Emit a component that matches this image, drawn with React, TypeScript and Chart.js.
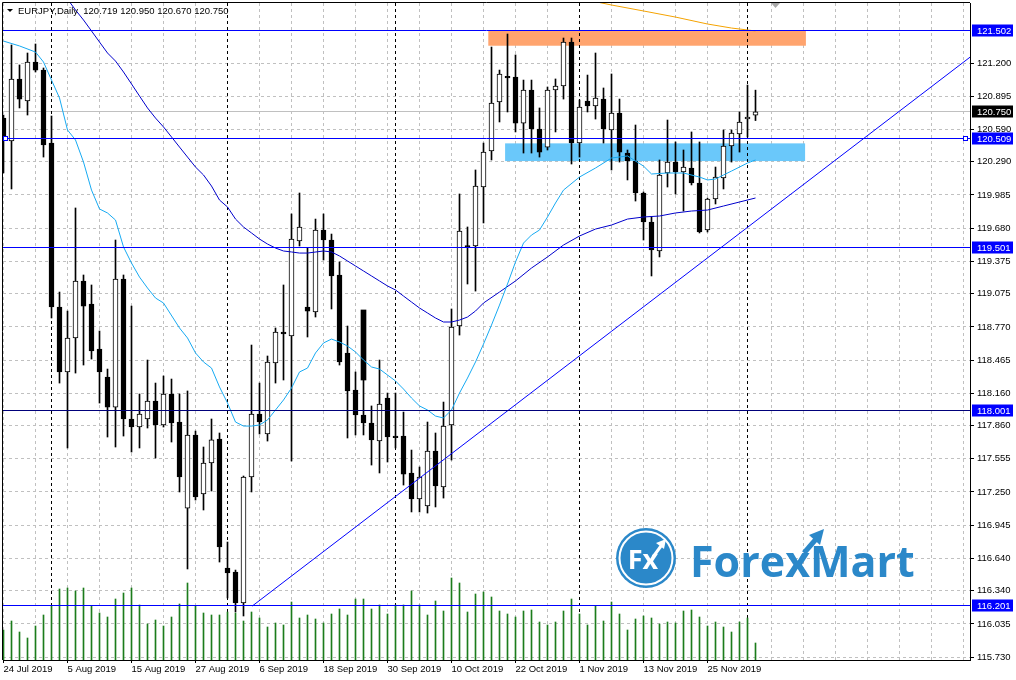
import React, { useEffect, useRef } from "react";
import { Chart, registerables } from "chart.js";

Chart.register(...registerables);

// ---------- data ----------
const dateLabels = [
  "24 Jul 2019", "5 Aug 2019", "15 Aug 2019", "27 Aug 2019", "6 Sep 2019", "18 Sep 2019",
  "30 Sep 2019", "10 Oct 2019", "22 Oct 2019", "1 Nov 2019", "13 Nov 2019", "25 Nov 2019",
];

const priceTicks = [
  121.2, 120.895, 120.59, 120.29, 119.985, 119.68, 119.375, 119.075, 118.77, 118.465,
  118.16, 117.86, 117.555, 117.25, 116.945, 116.64, 116.34, 116.035, 115.73,
];

const opens = [
  120.693, 120.482, 121.053, 120.85, 121.209, 121.135, 120.463, 118.953, 118.355, 118.668,
  119.193, 118.981, 118.566, 118.309, 118.032, 119.211, 117.922, 117.848, 117.922, 118.088,
  117.867, 118.152, 117.894, 117.102, 117.775, 117.231, 117.517, 117.738, 116.55, 116.513,
  116.228, 117.388, 117.968, 117.784, 118.438, 118.723, 118.686, 119.561, 118.953, 118.907,
  119.662, 119.57, 119.248, 118.53, 118.189, 117.959, 117.885, 117.719, 118.115, 117.765,
  117.765, 117.425, 117.185, 117.121, 117.627, 117.296, 117.867, 118.778, 119.518, 119.515,
  120.058, 120.39, 120.841, 121.078, 121.071, 120.647, 120.951, 120.592, 120.426, 120.951,
  120.988, 121.393, 120.463, 120.85, 120.804, 120.868, 120.583, 120.74, 120.371, 120.298,
  120.003, 119.736, 119.469, 120.187, 120.288, 120.196, 120.233, 120.095, 119.662, 119.948,
  120.141, 120.436, 120.546, 120.684, 120.719,
];
const highs = [
  120.721, 121.366, 121.182, 121.292, 121.375, 121.154, 120.712, 119.091, 118.916, 119.865,
  119.248, 119.156, 118.732, 118.382, 119.57, 119.248, 118.962, 118.152, 118.465, 118.253,
  118.318, 118.29, 118.152, 118.18, 117.811, 117.664, 117.922, 117.793, 116.789, 116.531,
  117.397, 118.603, 118.253, 118.502, 118.76, 119.156, 119.81, 120.003, 119.496, 119.763,
  119.81, 119.625, 119.368, 118.778, 118.355, 118.281, 118.042, 118.465, 118.161, 118.161,
  117.986, 117.636, 117.48, 117.894, 117.793, 118.078, 118.935, 119.994, 119.69, 120.215,
  120.463, 121.347, 121.135, 121.467, 121.274, 121.043, 121.043, 120.786, 120.979, 121.053,
  121.43, 121.43, 120.859, 121.089, 121.292, 120.97, 121.099, 120.868, 120.399, 120.629,
  120.012, 119.782, 120.307, 120.675, 120.473, 120.399, 120.565, 120.473, 119.955, 120.242,
  120.583, 120.583, 120.749, 120.997, 120.95,
];
const lows = [
  120.187, 120.04, 120.786, 120.721, 121.117, 120.334, 118.852, 118.253, 117.655, 118.345,
  118.419, 118.474, 118.069, 117.756, 117.664, 117.765, 117.618, 117.655, 117.839, 117.563,
  117.848, 117.71, 117.25, 116.541, 117.176, 117.084, 117.259, 116.605, 116.274, 116.145,
  116.108, 117.25, 117.784, 117.719, 118.253, 118.281, 117.535, 119.515, 118.677, 118.861,
  119.386, 118.935, 118.419, 117.747, 117.775, 117.775, 117.498, 117.425, 117.526, 117.655,
  117.314, 117.066, 117.066, 117.056, 117.112, 117.194, 117.544, 118.695, 119.165, 119.1,
  119.727, 120.307, 120.657, 120.749, 120.565, 120.371, 120.371, 120.334, 120.399, 120.565,
  120.868, 120.27, 120.334, 120.749, 120.684, 120.463, 120.215, 120.288, 120.123, 119.929,
  119.57, 119.239, 119.414, 120.058, 119.994, 119.837, 120.077, 119.635, 119.644, 119.902,
  120.04, 120.288, 120.38, 120.519, 120.67,
];
const closes = [
  120.491, 121.053, 120.868, 121.209, 121.135, 120.445, 118.953, 118.355, 118.668, 119.193,
  118.962, 118.548, 118.355, 118.032, 119.211, 117.922, 117.848, 117.968, 118.088, 117.867,
  118.152, 117.885, 117.388, 117.775, 117.204, 117.517, 117.729, 116.743, 116.504, 116.228,
  117.388, 117.968, 117.894, 118.447, 118.723, 118.705, 119.579, 119.69, 118.916, 119.662,
  119.57, 119.239, 118.447, 118.18, 117.959, 117.885, 117.729, 118.06, 117.756, 117.75,
  117.415, 117.185, 117.388, 117.627, 117.305, 117.857, 118.769, 119.653, 119.502, 120.067,
  120.38, 120.832, 121.099, 121.062, 120.647, 120.951, 120.592, 120.38, 120.951, 120.988,
  121.393, 120.463, 120.795, 120.804, 120.878, 120.592, 120.74, 120.38, 120.298, 120.003,
  119.736, 119.478, 120.169, 120.288, 120.196, 120.242, 120.095, 119.644, 119.948, 120.15,
  120.436, 120.555, 120.657, 120.703, 120.75,
];
// tick volume (thousands)
const volumes = [
  30, 39, 28, 22, 34, 45, 54, 71, 72, 69,
  72, 54, 47, 43, 61, 67, 72, 55, 36, 40,
  34, 43, 56, 77, 54, 47, 45, 45, 48, 47,
  39, 48, 42, 33, 37, 35, 58, 42, 45, 41,
  37, 46, 51, 45, 61, 61, 51, 55, 46, 55,
  55, 69, 55, 45, 59, 49, 82, 77, 48, 66,
  68, 63, 49, 46, 43, 49, 50, 38, 35, 38,
  49, 61, 46, 35, 54, 39, 58, 46, 30, 41,
  44, 42, 36, 38, 37, 49, 50, 43, 34, 38,
  33, 28, 38, 42, 17,
];
// stray body drawn at bar 45
const strayBody: [number, number, number] = [45, 118.926, 118.281];

const maFast: [number, number][] = [
  [0, 121.402], [2, 121.357], [4, 121.301], [5, 121.209], [6, 121.043], [7, 120.878], [8, 120.583],
  [9, 120.491], [10, 120.288], [11, 120.03], [12, 119.856], [13, 119.819], [14, 119.754], [15, 119.506],
  [16, 119.358], [17, 119.229], [18, 119.128], [19, 119.036], [20, 118.99], [22, 118.76], [23, 118.668],
  [24, 118.53], [25, 118.447], [26, 118.391], [27, 118.217], [28, 118.069], [29, 117.894], [30, 117.857],
  [31, 117.857], [32, 117.867], [33, 117.913], [34, 118.005], [35, 118.097], [36, 118.207], [37, 118.355],
  [38, 118.391], [39, 118.53], [40, 118.622], [41, 118.658], [42, 118.631], [43, 118.594], [44, 118.539],
  [45, 118.465], [46, 118.401], [47, 118.382], [48, 118.327], [49, 118.272], [50, 118.198], [51, 118.115],
  [52, 118.042], [53, 118.005], [54, 117.949], [55, 117.931], [56, 118.005], [57, 118.161], [58, 118.299],
  [59, 118.447], [60, 118.612], [61, 118.787], [62, 118.971], [63, 119.165], [64, 119.368], [65, 119.542],
  [66, 119.616], [67, 119.662], [68, 119.782], [69, 119.911], [70, 120.03], [72, 120.15], [74, 120.233],
  [76, 120.325], [78, 120.344], [80, 120.251], [81, 120.178], [83, 120.187], [85, 120.187], [87, 120.15],
  [88, 120.123], [89, 120.132], [90, 120.169], [91, 120.205], [92, 120.242], [93, 120.279], [94, 120.307],
];
const maMid: [number, number][] = [
  [8, 121.789], [9, 121.688], [10, 121.596], [11, 121.495], [12, 121.393], [13, 121.292], [14, 121.218],
  [15, 121.117], [16, 121.007], [17, 120.896], [18, 120.786], [19, 120.693], [20, 120.611], [21, 120.519],
  [22, 120.426], [23, 120.334], [24, 120.242], [25, 120.169], [26, 120.067], [27, 119.938], [28, 119.874],
  [29, 119.763], [30, 119.69], [31, 119.635], [32, 119.579], [33, 119.533], [34, 119.496], [35, 119.469],
  [36, 119.46], [37, 119.45], [38, 119.45], [40, 119.469], [41, 119.46], [42, 119.423], [43, 119.377],
  [44, 119.331], [45, 119.285], [46, 119.239], [47, 119.193], [48, 119.147], [49, 119.11], [50, 119.054],
  [51, 118.999], [52, 118.944], [53, 118.898], [54, 118.852], [55, 118.815], [56, 118.815], [57, 118.833],
  [58, 118.861], [59, 118.916], [60, 118.99], [62, 119.091], [64, 119.193], [66, 119.312], [68, 119.414],
  [70, 119.524], [72, 119.607], [74, 119.671], [76, 119.708], [78, 119.763], [80, 119.782], [82, 119.791],
  [84, 119.819], [86, 119.837], [88, 119.846], [90, 119.883], [92, 119.92], [94, 119.957],
];
const maSlow: [number, number][] = [
  [73, 121.78], [76, 121.734], [80, 121.679], [84, 121.623], [88, 121.559], [91, 121.522], [94, 121.495],
];
const trendPoints: [number, number][] = [[31.1, 116.2], [120.84, 121.255]];
const levelPrices = [121.502, 120.509, 119.501, 118.001, 116.201];
const bidPrice = 120.75;
const monthStarts = [6, 28, 49, 72, 93];
// [fromBar, toBar, lowPrice, highPrice]
const resistanceZone = [60.6, 100.3, 121.359, 121.497];
const supportZone = [62.7, 100.2, 120.297, 120.46];
const headerText = "EURJPY,Daily  120.719 120.950 120.670 120.750";

// ---------- chart ----------
const FONT = "'Liberation Sans', Arial, sans-serif";
const FS = 9.5;

const overlayPlugin = {
  id: "overlay",
  beforeDatasetsDraw(chart: any) {
    const { ctx, chartArea: a, scales } = chart;
    const x = scales.x, y = scales.y;
    ctx.save();
    ctx.beginPath();
    ctx.rect(a.left, a.top, a.right - a.left, a.bottom - a.top);
    ctx.clip();
    const zone = (z: number[], color: string) => {
      const x1 = x.getPixelForValue(z[0]);
      const x2 = x.getPixelForValue(z[1]);
      const y1 = y.getPixelForValue(z[3]);
      const y2 = y.getPixelForValue(z[2]);
      ctx.fillStyle = color;
      ctx.fillRect(x1, y1, x2 - x1, y2 - y1);
    };
    zone(resistanceZone, "#ffa46e");
    zone(supportZone, "#6ac8fa");
    const by = Math.floor(y.getPixelForValue(bidPrice)) + 0.5;
    ctx.strokeStyle = "#c0c0c0";
    ctx.lineWidth = 1;
    ctx.beginPath();
    ctx.moveTo(a.left, by);
    ctx.lineTo(a.right, by);
    ctx.stroke();
    ctx.strokeStyle = "#000";
    ctx.setLineDash([3, 3]);
    monthStarts.forEach((i) => {
      const px = Math.floor(x.getPixelForValue(i)) + 0.5;
      ctx.beginPath();
      ctx.moveTo(px, a.top);
      ctx.lineTo(px, a.bottom);
      ctx.stroke();
    });
    ctx.restore();
  },
  afterDatasetsDraw(chart: any) {
    const { ctx, chartArea: a, scales } = chart;
    const y = scales.y;
    ctx.save();
    // horizontal levels
    levelPrices.forEach((p, i) => {
      const py = Math.floor(y.getPixelForValue(p)) + 0.5;
      ctx.strokeStyle = i === 3 ? "#00007a" : "#0000ff";
      ctx.lineWidth = 1;
      ctx.beginPath();
      ctx.moveTo(a.left, py);
      ctx.lineTo(a.right, py);
      ctx.stroke();
    });
    // anchor squares on 120.509 level
    const sy = Math.floor(y.getPixelForValue(levelPrices[1])) + 0.5;
    ctx.fillStyle = "#fff";
    ctx.strokeStyle = "#0000ff";
    [a.left + 0.5, a.right - 6.5].forEach((sx) => {
      ctx.fillRect(sx, sy - 2, 4, 4);
      ctx.strokeRect(sx, sy - 2, 4, 4);
    });
    // header
    ctx.fillStyle = "#000";
    ctx.beginPath();
    ctx.moveTo(7, 9);
    ctx.lineTo(13, 9);
    ctx.lineTo(10, 12);
    ctx.closePath();
    ctx.fill();
    ctx.font = `${FS}px ${FONT}`;
    ctx.textAlign = "left";
    ctx.textBaseline = "middle";
    ctx.fillText(headerText, 18, 11);
    // shift marker
    ctx.fillStyle = "#a8a8a8";
    ctx.beginPath();
    ctx.moveTo(771, 3);
    ctx.lineTo(780, 3);
    ctx.lineTo(775.5, 8);
    ctx.closePath();
    ctx.fill();
    // logo
    const blue = "#2b88c9";
    const cx = 646, cy = 558;
    ctx.fillStyle = blue;
    ctx.beginPath();
    ctx.arc(cx, cy, 30, 0, Math.PI * 2);
    ctx.fill();
    ctx.strokeStyle = "#fff";
    ctx.lineWidth = 2;
    ctx.beginPath();
    ctx.arc(cx, cy, 26.5, 0, Math.PI * 2);
    ctx.stroke();
    ctx.fillStyle = "#fff";
    ctx.font = `bold 27px 'Open Sans', sans-serif`;
    ctx.textAlign = "center";
    ctx.textBaseline = "alphabetic";
    ctx.fillText("Fx", cx - 3, cy + 11);
    ctx.strokeStyle = "#fff";
    ctx.lineWidth = 3;
    ctx.beginPath();
    ctx.moveTo(cx + 7, cy - 1);
    ctx.lineTo(cx + 15, cy - 12);
    ctx.stroke();
    ctx.beginPath();
    ctx.moveTo(cx + 20, cy - 19);
    ctx.lineTo(cx + 10, cy - 15);
    ctx.lineTo(cx + 18, cy - 9);
    ctx.closePath();
    ctx.fill();
    ctx.fillStyle = blue;
    ctx.font = `bold 43px 'Open Sans', sans-serif`;
    ctx.textAlign = "left";
    ctx.fillText("ForexMart", 690, 577);
    ctx.strokeStyle = blue;
    ctx.lineWidth = 5;
    ctx.beginPath();
    ctx.moveTo(804, 553);
    ctx.lineTo(817, 538);
    ctx.stroke();
    ctx.beginPath();
    ctx.moveTo(824, 529);
    ctx.lineTo(809, 535);
    ctx.lineTo(820, 545);
    ctx.closePath();
    ctx.fill();
    ctx.restore();
  },
  afterDraw(chart: any) {
    const { ctx, chartArea: a, scales } = chart;
    const y = scales.y;
    ctx.save();
    ctx.strokeStyle = "#000";
    ctx.lineWidth = 1;
    ctx.beginPath();
    ctx.moveTo(a.left - 0.5, a.bottom);
    ctx.lineTo(a.left - 0.5, a.top - 0.5);
    ctx.lineTo(a.right, a.top - 0.5);
    ctx.stroke();
    ctx.font = `${FS}px ${FONT}`;
    ctx.textAlign = "left";
    ctx.textBaseline = "middle";
    const box = (p: number, bg: string) => {
      const py = Math.floor(y.getPixelForValue(p)) + 0.5;
      ctx.fillStyle = bg;
      ctx.fillRect(a.right + 2, py - 6, 41, 12);
      ctx.fillStyle = "#fff";
      ctx.fillText(p.toFixed(3), a.right + 7, py + 0.5);
    };
    levelPrices.forEach((p) => box(p, "#0000ff"));
    box(bidPrice, "#000");
    ctx.restore();
  },
};

export default function App() {
  const ref = useRef<HTMLCanvasElement | null>(null);

  useEffect(() => {
    document.body.style.margin = "0";
    if (!ref.current) return;
    const n = opens.length;
    const idx = Array.from({ length: n }, (_, i) => i);
    const chart = new Chart(ref.current, {
      type: "bar",
      data: {
        datasets: [
          {
            type: "line",
            label: "trend",
            data: trendPoints.map(([i, v]) => ({ x: i, y: v })),
            borderColor: "#0000ff",
            borderWidth: 1,
            pointRadius: 0,
            fill: false,
            yAxisID: "y",
            order: 1,
          } as any,
          {
            type: "line",
            label: "MA fast",
            data: maFast.map(([i, v]) => ({ x: i, y: v })),
            borderColor: "#17aaf2",
            borderWidth: 1,
            pointRadius: 0,
            fill: false,
            yAxisID: "y",
            order: 2,
          } as any,
          {
            type: "line",
            label: "MA mid",
            data: maMid.map(([i, v]) => ({ x: i, y: v })),
            borderColor: "#0000cc",
            borderWidth: 1,
            pointRadius: 0,
            fill: false,
            yAxisID: "y",
            order: 2,
          } as any,
          {
            type: "line",
            label: "MA slow",
            data: maSlow.map(([i, v]) => ({ x: i, y: v })),
            borderColor: "#f5a300",
            borderWidth: 1,
            pointRadius: 0,
            fill: false,
            yAxisID: "y",
            order: 2,
          } as any,
          {
            type: "bar",
            label: "bodies",
            data: idx.map((i) => ({ x: i, y: [opens[i], closes[i]] })),
            backgroundColor: idx.map((i) => (closes[i] >= opens[i] ? "#ffffff" : "#000000")),
            borderColor: "#000000",
            borderWidth: 1,
            borderSkipped: false,
            barThickness: 5,
            grouped: false,
            yAxisID: "y",
            order: 3,
          } as any,
          {
            type: "bar",
            label: "stray",
            data: [{ x: strayBody[0], y: [strayBody[1], strayBody[2]] }],
            backgroundColor: "#000000",
            borderWidth: 0,
            barThickness: 5,
            grouped: false,
            yAxisID: "y",
            order: 4,
          } as any,
          {
            type: "bar",
            label: "wicks",
            data: idx.map((i) => ({ x: i, y: [lows[i], highs[i]] })),
            backgroundColor: "#000000",
            borderWidth: 0,
            barThickness: 1,
            grouped: false,
            yAxisID: "y",
            order: 5,
          } as any,
          {
            type: "bar",
            label: "volume",
            data: idx.map((i) => ({ x: i, y: volumes[i] })),
            backgroundColor: "#1c7c1c",
            borderWidth: 0,
            barThickness: 1,
            grouped: false,
            yAxisID: "yv",
            order: 9,
          } as any,
        ],
      },
      options: {
        responsive: false,
        animation: false,
        events: [],
        layout: { padding: { left: 3, top: 3, right: 0, bottom: 0 } },
        plugins: { legend: { display: false }, tooltip: { enabled: false } },
        scales: {
          x: {
            type: "linear",
            position: "bottom",
            min: -0.0625,
            max: 120.8125,
            offset: false,
            afterBuildTicks: (s: any) => {
              s.ticks = Array.from({ length: 31 }, (_, k) => ({ value: k * 4 }));
            },
            afterFit: (s: any) => {
              s.height = 20;
              s.paddingLeft = 0;
              s.paddingRight = 0;
            },
            ticks: {
              autoSkip: false,
              maxRotation: 0,
              minRotation: 0,
              align: "start",
              padding: 1,
              color: "#000",
              font: { family: FONT, size: FS },
              callback: (v: any) => {
                const k = Math.round(Number(v));
                return k % 8 === 0 && k / 8 < dateLabels.length ? dateLabels[k / 8] : "";
              },
            },
            grid: {
              color: "#c0c0c0",
              lineWidth: 1,
              offset: false,
              tickLength: 3,
              tickColor: (c: any) => {
                const v = c.tick ? Math.round(c.tick.value) : -1;
                return v % 8 === 0 && v / 8 < dateLabels.length ? "#000" : "rgba(0,0,0,0)";
              },
            },
            border: { display: true, color: "#000", dash: [3, 3] },
          } as any,
          y: {
            type: "linear",
            position: "right",
            min: 115.7028,
            max: 121.7525,
            afterBuildTicks: (s: any) => {
              s.ticks = priceTicks.map((v) => ({ value: v }));
            },
            afterFit: (s: any) => {
              s.width = 46;
              s.paddingTop = 0;
              s.paddingBottom = 0;
            },
            ticks: {
              padding: 3,
              color: "#000",
              font: { family: FONT, size: FS },
              callback: (v: any) => Number(v).toFixed(3),
            },
            grid: { color: "#c0c0c0", lineWidth: 1, tickLength: 4, tickColor: "#000" },
            border: { display: true, color: "#000", dash: [3, 3] },
          } as any,
          yv: {
            type: "linear",
            display: false,
            min: 0,
            max: 657,
          } as any,
        },
      } as any,
      plugins: [overlayPlugin as any],
    });
    return () => chart.destroy();
  }, []);

  return (
    <div style={{ width: 1016, height: 680, background: "#fff" }}>
      <canvas ref={ref} width={1016} height={680} style={{ display: "block" }} />
    </div>
  );
}
